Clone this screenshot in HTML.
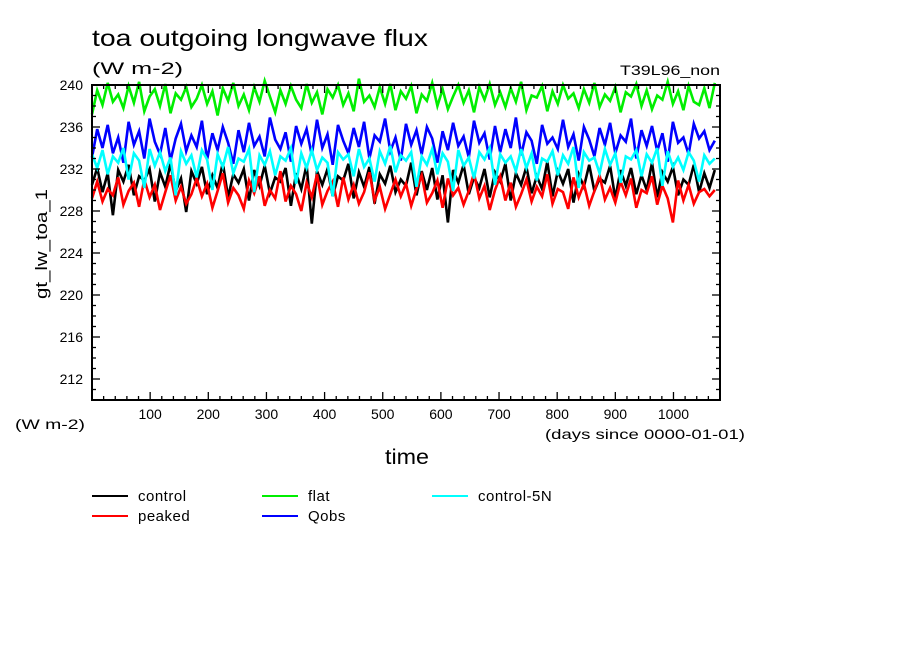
<!DOCTYPE html>
<html><head><meta charset="utf-8"><style>
html,body{margin:0;padding:0;background:#fff;}
svg{display:block;font-family:"Liberation Sans",sans-serif;}
</style></head><body>
<svg id="chart" width="904" height="654">
<text x="92" y="46" font-size="23" textLength="336" lengthAdjust="spacingAndGlyphs">toa outgoing longwave flux</text>
<text x="92" y="74" font-size="17" textLength="91" lengthAdjust="spacingAndGlyphs">(W m-2)</text>
<text x="620" y="75" font-size="14" textLength="100" lengthAdjust="spacingAndGlyphs">T39L96_non</text>
<text transform="translate(47,244) rotate(-90)" font-size="17" text-anchor="middle" textLength="110" lengthAdjust="spacingAndGlyphs">gt_lw_toa_1</text>
<text x="15" y="429" font-size="14" textLength="70" lengthAdjust="spacingAndGlyphs">(W m-2)</text>
<text x="545" y="439" font-size="14" textLength="200" lengthAdjust="spacingAndGlyphs">(days since 0000-01-01)</text>
<text x="407" y="464" font-size="21" text-anchor="middle" textLength="44" lengthAdjust="spacingAndGlyphs">time</text>
<g id="plot"></g>
<g id="axes"></g>
<g id="legend"></g>
</svg>
<script>
const xTicks=[100,200,300,400,500,600,700,800,900,1000];
const yTicks=[212,216,220,224,228,232,236,240];
const seriesNames=["control","peaked","flat","Qobs","control-5N"];
const seriesColors=["#000000","#ff0000","#00ee00","#0000ff","#00ffff"];
const dayStart=0, dayStep=9;
const control=[230.5,232.1,229.8,231.6,227.6,231.9,230.8,232.4,229.5,231.3,230.9,232.0,228.9,231.7,230.3,232.5,229.9,231.1,227.9,231.8,
230.6,232.2,229.6,231.4,230.2,232.6,229.3,231.5,230.7,232.0,229.0,231.9,230.4,232.3,229.7,231.2,230.8,232.1,228.5,231.6,
230.1,232.4,226.8,231.8,230.5,232.0,229.4,231.3,230.9,232.5,229.2,231.7,230.3,232.2,228.7,231.5,230.6,232.3,229.8,231.0,
230.4,232.6,229.5,231.8,230.0,232.1,229.1,231.4,226.9,231.9,230.7,232.4,229.6,231.2,230.2,232.0,229.3,231.7,230.8,232.5,
229.0,231.6,230.5,232.2,229.7,231.3,230.1,232.7,229.4,231.8,230.6,232.0,228.8,231.5,230.3,232.4,229.9,231.1,230.7,232.3,
229.2,231.9,230.4,232.1,229.6,231.4,230.0,232.6,229.3,231.7,230.8,232.2,229.5,231.0,230.5,232.4,229.8,231.6,230.2,231.9];
const peaked=[229.2,230.8,228.9,230.1,229.5,231.2,228.6,229.9,230.7,228.4,231.0,229.3,230.5,228.1,229.8,231.4,229.0,230.3,228.7,229.6,
231.1,229.4,230.6,228.3,229.9,231.6,228.8,230.2,229.5,228.2,230.9,229.7,231.3,228.5,230.0,229.2,231.8,228.9,230.4,229.6,
228.0,230.7,229.3,231.5,228.6,229.9,230.8,228.4,231.2,229.1,230.5,228.7,229.8,231.7,229.0,230.3,228.2,229.6,231.0,229.4,
230.6,228.5,230.1,231.4,228.8,229.7,230.9,228.3,231.1,229.5,230.2,228.6,229.9,231.6,229.2,230.4,228.1,230.0,231.3,229.0,
230.7,228.4,229.6,231.0,228.9,230.3,229.4,231.5,228.7,230.1,229.8,228.2,231.2,229.3,230.6,228.5,229.9,231.4,229.1,230.2,
228.8,230.8,229.5,231.1,228.3,230.0,229.7,231.3,228.6,230.4,229.2,226.9,230.9,229.0,230.5,228.7,229.8,230.1,229.4,230.0];
const flat=[237.2,239.5,238.1,240.2,238.4,239.1,237.8,239.9,238.3,240.3,237.5,238.9,239.6,238.0,240.1,237.3,239.2,238.6,239.8,237.9,
238.7,240.0,238.2,239.4,237.1,239.7,238.5,240.2,238.0,239.1,237.6,239.8,238.4,240.4,238.9,237.4,239.5,238.2,239.9,238.6,
237.8,240.1,238.3,239.3,237.2,239.6,238.8,240.0,238.1,239.2,237.5,240.6,238.4,239.0,237.9,239.8,238.2,240.1,237.6,239.4,
238.7,239.9,237.3,239.1,238.5,240.2,238.0,239.6,237.7,238.9,240.0,238.3,239.5,237.4,239.8,238.6,240.1,238.1,239.3,237.9,
239.7,238.4,240.3,237.6,239.0,238.8,239.9,237.5,239.4,238.2,240.0,238.7,239.2,237.8,239.6,238.3,240.2,237.9,239.1,238.5,
239.8,237.4,239.3,238.9,240.1,238.0,239.5,237.7,239.0,238.6,240.3,238.2,239.4,237.6,239.9,238.4,238.1,239.7,237.8,240.2];
const qobs=[233.1,235.8,234.0,236.2,233.5,235.0,232.6,236.5,234.3,235.6,233.0,236.8,234.6,233.4,235.9,232.8,234.9,236.3,233.7,235.2,
234.1,236.6,232.9,235.4,233.8,236.0,234.5,232.5,235.7,233.6,236.4,234.2,235.1,233.2,236.9,234.8,233.9,235.5,232.7,236.1,
234.4,235.8,233.3,236.7,234.0,235.3,232.4,236.2,234.7,233.5,235.9,234.1,236.5,233.0,235.2,234.6,236.8,233.7,235.0,232.8,
236.3,234.3,235.7,233.4,236.0,234.9,232.6,235.6,233.8,236.4,234.2,235.1,233.1,236.6,234.5,235.4,232.9,236.1,233.6,235.8,
234.0,236.9,233.3,235.5,234.7,232.5,236.2,234.4,235.0,233.9,236.7,234.1,235.3,232.8,236.0,234.8,233.2,235.9,234.3,236.4,
233.5,235.2,234.6,236.8,233.0,235.7,234.2,236.1,233.7,235.4,232.7,236.5,234.5,235.0,233.4,236.3,234.9,235.6,233.8,234.7];
const control5N=[233.4,232.1,233.8,231.5,233.2,232.6,234.0,231.0,233.5,232.8,230.2,233.9,232.3,233.6,231.8,233.1,229.5,233.7,232.5,233.3,
231.2,233.8,232.9,230.0,233.4,232.2,234.1,231.6,233.0,232.7,233.9,229.8,233.3,232.4,233.7,231.4,233.2,232.8,234.0,230.6,
233.5,232.1,233.8,231.9,233.1,232.6,229.4,233.6,232.9,233.4,231.3,233.9,232.2,233.0,230.8,233.7,232.5,234.2,231.7,233.3,
232.8,233.6,230.3,233.2,232.4,233.9,231.5,233.5,232.7,229.9,233.8,232.3,233.1,231.1,233.6,232.9,234.0,230.5,233.4,232.6,
233.2,231.8,233.9,232.1,233.5,230.9,233.0,232.7,233.7,231.4,233.3,232.5,234.1,230.2,233.6,232.8,233.1,231.6,233.9,232.4,
233.5,230.7,233.2,232.9,233.8,231.3,233.4,232.6,234.0,230.4,233.7,232.2,233.1,231.9,233.6,232.8,230.8,233.3,232.5,233.0];
const seriesData=[control,peaked,flat,qobs,control5N];

const NS="http://www.w3.org/2000/svg";
const X0=92,X1=720,Y0=85,Y1=400,xMin=0,xMax=1080,yMin=210,yMax=240;
function xs(d){return X0+(d-xMin)/(xMax-xMin)*(X1-X0);}
function ys(v){return Y1-(v-yMin)/(yMax-yMin)*(Y1-Y0);}
function mk(tag,parent){const e=document.createElementNS(NS,tag);parent.appendChild(e);return e;}
const plot=document.getElementById('plot'),axes=document.getElementById('axes'),legend=document.getElementById('legend');

seriesData.forEach((arr,s)=>{
  const p=mk('polyline',plot);
  
  
  p.setAttribute('points',arr.map((v,i)=>xs(dayStart+i*dayStep).toFixed(1)+','+ys(Math.min(v,yMax+0.6)).toFixed(1)).join(' '));
  p.setAttribute('fill','none');p.setAttribute('stroke',seriesColors[s]);p.setAttribute('stroke-width','2.6');
});

const frame=mk('rect',axes);


frame.setAttribute('x',X0);frame.setAttribute('y',Y0);frame.setAttribute('width',X1-X0);frame.setAttribute('height',Y1-Y0);
frame.setAttribute('fill','none');frame.setAttribute('stroke','#000');frame.setAttribute('stroke-width','2');

function tick(x1,y1,x2,y2,name){const l=mk('line',axes);


l.setAttribute('x1',x1);l.setAttribute('y1',y1);l.setAttribute('x2',x2);l.setAttribute('y2',y2);l.setAttribute('stroke','#000');l.setAttribute('stroke-width','1.3');}
for(let d=20;d<xMax;d+=20){const x=xs(d),len=(d%100===0)?8:4;tick(x,Y1,x,Y1-len,'x-tick');tick(x,Y0,x,Y0+len,'x-tick-top');}
for(let v=yMin+1;v<yMax;v++){const y=ys(v),len=((v-212)%4===0)?8:4;tick(X0,y,X0+len,y,'y-tick');tick(X1,y,X1-len,y,'y-tick-right');}
xTicks.forEach(d=>{const t=mk('text',axes);


t.setAttribute('x',xs(d));t.setAttribute('y',419);t.setAttribute('font-size','14');t.setAttribute('text-anchor','middle');t.textContent=d;});
yTicks.forEach(v=>{const t=mk('text',axes);


t.setAttribute('x',83);t.setAttribute('y',ys(v)+5);t.setAttribute('font-size','14');t.setAttribute('text-anchor','end');t.textContent=v;});

const legPos=[[92,496],[92,516],[262,496],[262,516],[432,496]];
seriesNames.forEach((n,s)=>{const [lx,ly]=legPos[s];
const g=mk('g',legend);


const l=mk('line',g);l.setAttribute('x1',lx);l.setAttribute('x2',lx+36);l.setAttribute('y1',ly);l.setAttribute('y2',ly);l.setAttribute('stroke',seriesColors[s]);l.setAttribute('stroke-width','2');
const t=mk('text',g);t.setAttribute('x',lx+46);t.setAttribute('y',ly+5);t.setAttribute('font-size','15');t.setAttribute('letter-spacing','0.5');t.textContent=n;});
</script>
</body></html>
